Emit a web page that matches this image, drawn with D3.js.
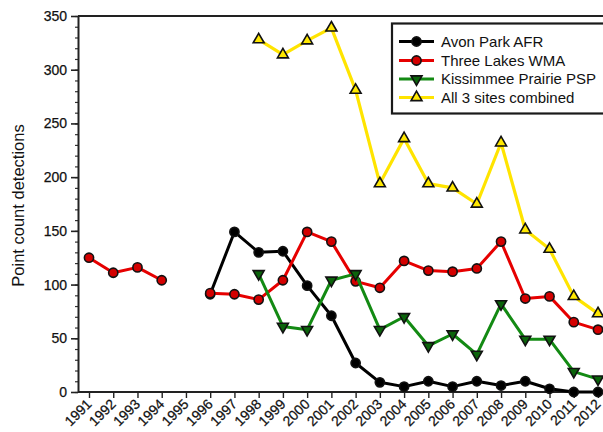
<!DOCTYPE html>
<html>
<head>
<meta charset="utf-8">
<script src="https://cdn.jsdelivr.net/npm/d3@7"></script>
<style>
  html, body { margin: 0; padding: 0; background: #fff; }
  svg { display: block; font-family: "Liberation Sans", Arial, sans-serif; }
</style>
</head>
<body>
<svg id="chart" width="603" height="432"></svg>
<script>
// Survey years
const years = [1991, 1992, 1993, 1994, 1995, 1996, 1997, 1998, 1999, 2000, 2001,
               2002, 2003, 2004, 2005, 2006, 2007, 2008, 2009, 2010, 2011, 2012];

// Point count detections per site (null = not surveyed)
const avonPark = [null, null, null, null, null, 91, 149, 130, 131, 99, 71,
                  27, 9, 5, 10, 5, 10, 6, 10, 3, 0, 0];
const threeLakes = [125, 111, 116, 104, null, 92, 91, 86, 104, 149, 140,
                    103, 97, 122, 113, 112, 115, 140, 87, 89, 65, 58];
const kissimmee = [null, null, null, null, null, null, null, 110, 61, 58, 104,
                   110, 58, 70, 43, 54, 35, 82, 49, 49, 19, 12];
const combined = [null, null, null, null, null, null, null, 328, 314, 327, 339,
                  281, 194, 236, 194, 190, 175, 232, 151, 133, 89, 73];

const yTicks = [0, 50, 100, 150, 200, 250, 300, 350];
const yMinorTicks = d3.range(0, 351, 10);

const seriesNames = ["Avon Park AFR", "Three Lakes WMA", "Kissimmee Prairie PSP", "All 3 sites combined"];
const seriesValues = [avonPark, threeLakes, kissimmee, combined];

const styles = [
  { line: "#000000", fill: "#000000", symbol: "circle" },
  { line: "#e60000", fill: "#d40000", symbol: "circle" },
  { line: "#138a13", fill: "#0b640b", symbol: "down" },
  { line: "#ffe400", fill: "#ffe800", symbol: "up" }
];

const svg = d3.select("#chart");
const W = 603;
const plotLeft = 78, plotTop = 16, plotBottom = 392;

const x = d3.scaleLinear().domain([1991, 2012]).range([89, 598]);
const y = d3.scaleLinear().domain([0, 350]).range([plotBottom, plotTop]);

// Frame: top border line
svg.append("line")
  .attr("x1", plotLeft).attr("x2", W + 2)
  .attr("y1", plotTop).attr("y2", plotTop)
  .attr("stroke", "#222").attr("stroke-width", 2.2);

// Y axis: minor ticks
svg.append("g")
  .attr("transform", `translate(${plotLeft},0)`)
  .call(d3.axisLeft(y).tickValues(yMinorTicks).tickSize(3).tickFormat(""))
  .call(g => g.select(".domain").remove())
  .call(g => g.selectAll("line").attr("stroke", "#333").attr("stroke-width", 1.2));

// Y axis: major ticks and labels
const yAxis = svg.append("g")
  .attr("transform", `translate(${plotLeft},0)`)
  .call(d3.axisLeft(y).tickValues(yTicks).tickSize(7).tickPadding(4).tickSizeOuter(0));
yAxis.select(".domain").attr("stroke", "#222").attr("stroke-width", 2);
yAxis.selectAll(".tick line").attr("stroke", "#222").attr("stroke-width", 1.6);
yAxis.selectAll(".tick text")
  .attr("font-size", 14).attr("fill", "#111")
  .attr("stroke", "#111").attr("stroke-width", 0.25)
  .attr("font-family", "'Liberation Sans', Arial, sans-serif");

// X axis
const xAxis = svg.append("g")
  .attr("transform", `translate(0,${plotBottom})`)
  .call(d3.axisBottom(x).tickValues(years).tickFormat(d3.format("d")).tickSize(6).tickSizeOuter(0));
xAxis.select(".domain").attr("d", `M${plotLeft},0H${W + 2}`).attr("stroke", "#222").attr("stroke-width", 2);
xAxis.selectAll(".tick line").attr("stroke", "#222").attr("stroke-width", 1.4);
xAxis.selectAll(".tick text")
  .attr("font-size", 14).attr("fill", "#111")
  .attr("stroke", "#111").attr("stroke-width", 0.25)
  .attr("font-family", "'Liberation Sans', Arial, sans-serif")
  .attr("text-anchor", "end")
  .attr("y", 0).attr("dy", 0)
  .attr("transform", "translate(3,13) rotate(-45)");

// Y axis title
svg.append("text")
  .attr("transform", `translate(24,${(119 + 292) / 2}) rotate(-90)`)
  .attr("text-anchor", "middle")
  .attr("font-size", 16.5)
  .attr("fill", "#111")
  .text("Point count detections");

// Marker drawing helper
function drawMarker(g, kind, st) {
  if (kind === "circle") {
    g.append("circle").attr("r", 4.6)
      .attr("fill", st.fill).attr("stroke", "#111").attr("stroke-width", 1.6);
  } else {
    const sym = d3.symbol().type(d3.symbolTriangle).size(52)();
    g.append("path").attr("d", sym)
      .attr("transform", kind === "down" ? "rotate(180)" : null)
      .attr("fill", st.fill).attr("stroke", "#111").attr("stroke-width", 1.6);
  }
}

const line = d3.line()
  .defined(d => d.v !== null)
  .x(d => x(d.year))
  .y(d => y(d.v));

seriesValues.forEach((vals, i) => {
  const st = styles[i];
  const pts = years.map((yr, j) => ({ year: yr, v: vals[j] }));
  const g = svg.append("g");
  g.append("path")
    .datum(pts)
    .attr("d", line)
    .attr("fill", "none")
    .attr("stroke", st.line)
    .attr("stroke-width", i === 3 ? 3.2 : 3)
    .attr("stroke-linejoin", "round");
  pts.filter(d => d.v !== null).forEach(d => {
    const m = g.append("g").attr("transform", `translate(${x(d.year)},${y(d.v)})`);
    drawMarker(m, st.symbol, st);
  });
});

// Legend
const legend = svg.append("g");
legend.append("rect")
  .attr("x", 392).attr("y", 23.5)
  .attr("width", 220).attr("height", 90)
  .attr("fill", "#fff").attr("stroke", "#1a1a1a").attr("stroke-width", 2.2);
const rowY = [41.5, 60.5, 79, 97.5];
seriesNames.forEach((name, i) => {
  const st = styles[i];
  const row = legend.append("g").attr("transform", `translate(0,${rowY[i]})`);
  row.append("line").attr("x1", 399).attr("x2", 434).attr("y1", 0).attr("y2", 0)
    .attr("stroke", st.line).attr("stroke-width", 3);
  const m = row.append("g").attr("transform", "translate(416.5,0)");
  drawMarker(m, st.symbol, st);
  row.append("text")
    .attr("x", 441).attr("y", 0).attr("dy", "0.36em")
    .attr("font-size", 15).attr("fill", "#111")
    .text(name);
});
</script>
</body>
</html>
